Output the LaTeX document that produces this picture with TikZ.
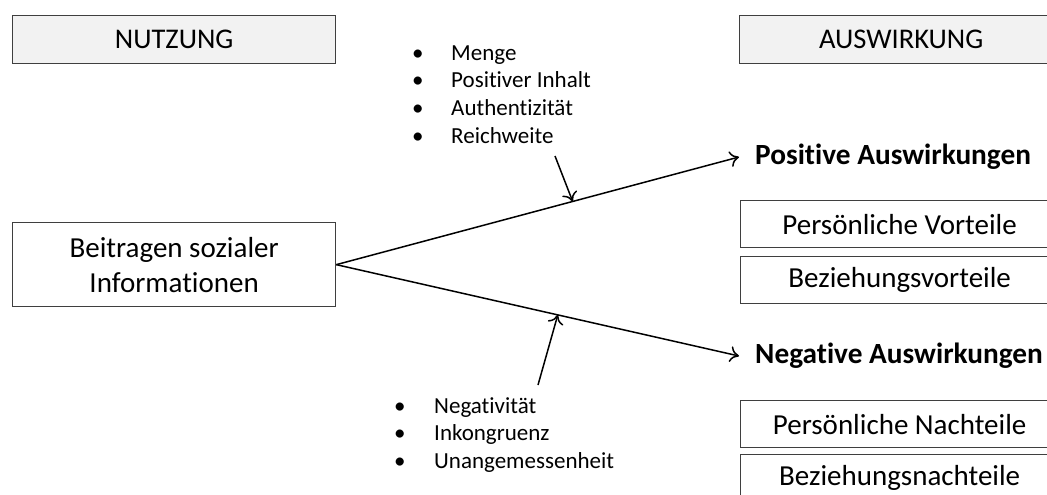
\documentclass[tikz,border=0pt]{standalone}
\usepackage{fontspec}
\setmainfont{Carlito}[Ligatures=NoCommon]
\usetikzlibrary{arrows.meta,calc,positioning}
\definecolor{kopfgrau}{HTML}{F2F2F2}
\definecolor{rahmen}{HTML}{3F3F3F}
\tikzset{
  kopf/.style={draw=rahmen,fill=kopfgrau,line width=1.3pt,minimum width=323pt,
               minimum height=48pt,inner sep=0pt,font=\fontsize{28.5}{34}\selectfont},
  kasten/.style={draw=rahmen,line width=1.3pt,minimum width=318pt,minimum height=47pt,
                 inner sep=0pt,font=\fontsize{29}{35}\selectfont},
  wirkung/.style={anchor=west,inner xsep=16pt,inner ysep=0pt,
                  font=\fontsize{29.3}{35}\selectfont\bfseries},
  pfeil/.style={line width=1.5pt,-{To[length=9pt,width=16pt]}},
  punkt/.style={anchor=base west,inner sep=0pt,font=\fontsize{23}{27}\selectfont},
}

\begin{document}
\begin{tikzpicture}[x=1pt,y=-1pt]
\useasboundingbox (0,0) rectangle (1047,495);
\clip (0,0) rectangle (1047,495);

% Kopfzeilen
\node[kopf,anchor=north west] (nutzung) at (12,15) {NUTZUNG};
\node[kopf,anchor=north west] (auswirkung) at (739,15) {AUSWIRKUNG};

% Quelle
\node[kasten,minimum width=323pt,minimum height=84pt,align=center,anchor=north west]
  (quelle) at (12,222) {Beitragen sozialer\\Informationen};

% Auswirkungen
\node[wirkung] (positiv) at (739,157) {Positive Auswirkungen};
\node[wirkung] (negativ) at (739,356) {Negative Auswirkungen};

\node[kasten,anchor=north west] (pvort) at (740,200) {Persönliche Vorteile};
\node[kasten,anchor=north west] (bvort) at (740,256) {Beziehungsvorteile};
\node[kasten,anchor=north west] (pnach) at (740,400) {Persönliche Nachteile};
\node[kasten,anchor=north west] (bnach) at (740,454) {Beziehungsnachteile};

% Pfade
\draw[pfeil] (quelle.east) -- (positiv.west);
\draw[pfeil] (quelle.east) -- (negativ.west);

% Moderatoren oben
\foreach \t [count=\i] in {Menge,Positiver Inhalt,Authentizität,Reichweite} {
  \node[punkt] (obenpkt\i) at (412,{32.5+27.7*\i}) {\textbullet};
  \node[punkt] (oben\i) at (451,{32.5+27.7*\i}) {\t};
}
\coordinate (obenstart) at (555,156);
\draw[pfeil] (obenstart) -- ($(quelle.east)!0.587!(positiv.west)$);

% Moderatoren unten
\foreach \t [count=\i] in {Negativität,Inkongruenz,Unangemessenheit} {
  \node[punkt] (untenpkt\i) at (394,{385.5+27.5*\i}) {\textbullet};
  \node[punkt] (unten\i) at (434,{385.5+27.5*\i}) {\t};
}
\coordinate (untenstart) at (538,385);
\draw[pfeil] (untenstart) -- ($(quelle.east)!0.55!(negativ.west)$);
\end{tikzpicture}
\end{document}
